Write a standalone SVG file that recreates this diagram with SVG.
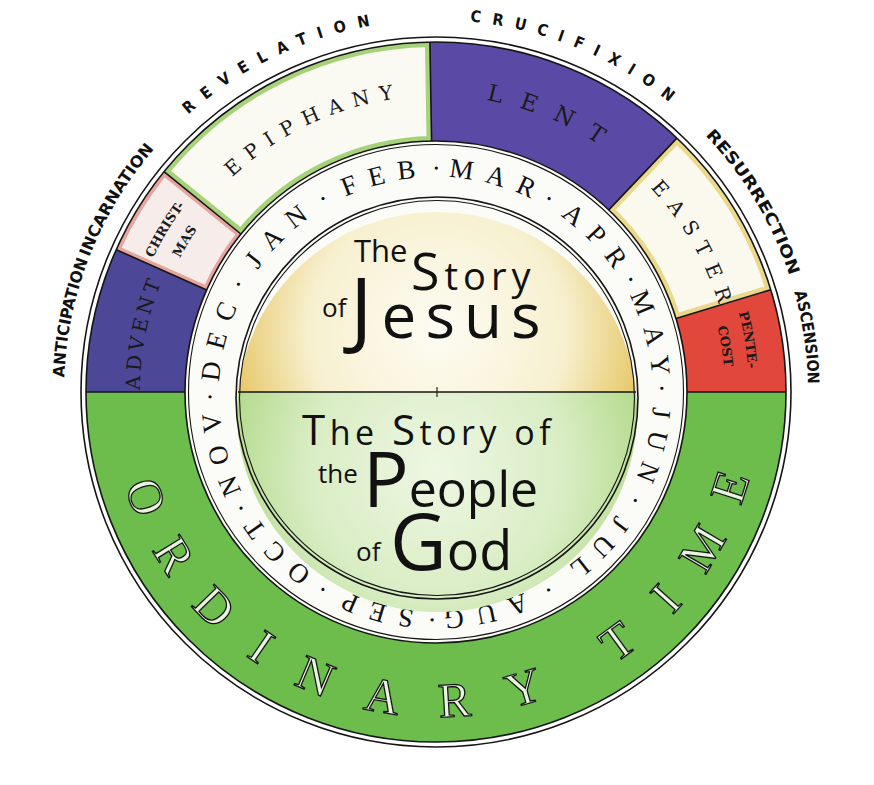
<svg xmlns="http://www.w3.org/2000/svg" xmlns:xlink="http://www.w3.org/1999/xlink" width="874" height="785" viewBox="0 0 874 785">
<style>
.ln{fill:none;stroke:#151515;stroke-width:1.6}
.lt{fill:none;stroke:#151515;stroke-width:1.1}
.outer{font-family:"DejaVu Sans Condensed","DejaVu Sans",sans-serif;font-stretch:condensed;font-weight:bold;font-size:16px;fill:#111}
.band{font-family:"DejaVu Serif",serif;fill:#1a1a1a;text-anchor:middle}
.small{font-family:"DejaVu Serif",serif;font-weight:bold;font-size:13px;fill:#1a1a1a;text-anchor:middle}
.month{font-family:"Liberation Serif",serif;font-size:27px;fill:#111;letter-spacing:12px;text-anchor:middle}
.dot{font-family:"Liberation Serif",serif;font-size:27px;fill:#111;text-anchor:middle}
.ord{font-family:"Liberation Serif",serif;font-size:49px;fill:#e9f4df;stroke:#141414;stroke-width:1.3;text-anchor:middle}
.story{font-family:"Open Sans",sans-serif;fill:#111}
</style>
<defs>
<radialGradient id="gUp" cx="437" cy="330" r="215" gradientUnits="userSpaceOnUse">
<stop offset="0" stop-color="#fdfcf4"/><stop offset="0.6" stop-color="#f7f0cf"/><stop offset="1" stop-color="#e5c45e"/>
</radialGradient>
<radialGradient id="gLo" cx="437" cy="470" r="215" gradientUnits="userSpaceOnUse">
<stop offset="0" stop-color="#eef7e3"/><stop offset="0.6" stop-color="#d9edc4"/><stop offset="1" stop-color="#b3da8c"/>
</radialGradient>
<path id="sChr" d="M116.3,249.7 A350,350 0 0 1 164.0,171.7 L240.9,234.0 A251,251 0 0 0 206.7,289.9 Z"/>
<path id="sEpi" d="M164.0,171.7 A350,350 0 0 1 429.9,42.1 L431.6,141.0 A251,251 0 0 0 240.9,234.0 Z"/>
<path id="sEas" d="M676.9,138.1 A350,350 0 0 1 770.7,289.7 L676.0,318.6 A251,251 0 0 0 608.8,209.9 Z"/>
<clipPath id="cChr"><use xlink:href="#sChr"/></clipPath>
<clipPath id="cEpi"><use xlink:href="#sEpi"/></clipPath>
<clipPath id="cEas"><use xlink:href="#sEas"/></clipPath>
<path id="pOuter" d="M64,392 A372,372 0 1 1 808,392 A372,372 0 1 1 64,392"/>
<path id="pBand" d="M140,392 A296,296 0 1 1 732,392 A296,296 0 1 1 140,392"/>
<path id="pHi" d="M123,392 A313,313 0 1 1 749,392 A313,313 0 1 1 123,392"/>
<path id="pLo" d="M147,392 A289,289 0 1 1 725,392 A289,289 0 1 1 147,392"/>
<path id="pMonth" d="M219,394 A217,217 0 1 1 653,394 A217,217 0 1 1 219,394 A217,217 0 1 1 653,394"/>
<path id="pOrd" d="M111,392 A325,325 0 0 0 761,392"/>
</defs>

<g id="season-ring">
<g id="advent"><path d="M86,392 A350,350 0 0 1 116.3,249.7 L206.7,289.9 A251,251 0 0 0 185,392 Z" fill="#4c4797"/>
<text class="band" font-size="20" letter-spacing="4"><textPath xlink:href="#pBand" startOffset="59">ADVENT</textPath></text></g>
<g id="christmas"><use xlink:href="#sChr" fill="#f6ecea"/><use xlink:href="#sChr" fill="none" stroke="#e6a49c" stroke-width="8" clip-path="url(#cChr)"/>
<text class="small"><textPath xlink:href="#pHi" startOffset="169">CHRIST-</textPath></text>
<text class="small"><textPath xlink:href="#pLo" startOffset="156">MAS</textPath></text></g>
<g id="epiphany"><use xlink:href="#sEpi" fill="#fafaf2"/><use xlink:href="#sEpi" fill="none" stroke="#a6d27a" stroke-width="10" clip-path="url(#cEpi)"/>
<text class="band" font-size="20" letter-spacing="10"><textPath xlink:href="#pBand" startOffset="336">EPIPHANY</textPath></text></g>
<g id="lent"><path d="M429.9,42.1 A350,350 0 0 1 676.9,138.1 L608.8,209.9 A251,251 0 0 0 431.6,141.0 Z" fill="#5a4aa5"/>
<text class="band" font-size="23" letter-spacing="18"><textPath xlink:href="#pBand" startOffset="585">LENT</textPath></text></g>
<g id="easter"><use xlink:href="#sEas" fill="#fbf9ee"/><use xlink:href="#sEas" fill="none" stroke="#ead98a" stroke-width="10" clip-path="url(#cEas)"/>
<text class="band" font-size="20" letter-spacing="10"><textPath xlink:href="#pBand" startOffset="777">EASTER</textPath></text></g>
<g id="pentecost"><path d="M770.7,289.7 A350,350 0 0 1 786,392 L687,392 A251,251 0 0 0 676.0,318.6 Z" fill="#e2473b"/>
<text class="small"><textPath xlink:href="#pHi" startOffset="931">PENTE-</textPath></text>
<text class="small"><textPath xlink:href="#pLo" startOffset="862">COST</textPath></text></g>
<g id="ordinary-time"><path d="M786,392 A350,350 0 0 1 86,392 L185,392 A251,251 0 0 0 687,392 Z" fill="#6dbd4d"/>
<text class="ord"><textPath xlink:href="#pOrd" startOffset="113">O</textPath></text>
<text class="ord"><textPath xlink:href="#pOrd" startOffset="181">R</textPath></text>
<text class="ord"><textPath xlink:href="#pOrd" startOffset="250">D</textPath></text>
<text class="ord"><textPath xlink:href="#pOrd" startOffset="315">I</textPath></text>
<text class="ord"><textPath xlink:href="#pOrd" startOffset="380">N</textPath></text>
<text class="ord"><textPath xlink:href="#pOrd" startOffset="454">A</textPath></text>
<text class="ord"><textPath xlink:href="#pOrd" startOffset="530">R</textPath></text>
<text class="ord"><textPath xlink:href="#pOrd" startOffset="604">Y</textPath></text>
<text class="ord"><textPath xlink:href="#pOrd" startOffset="715">T</textPath></text>
<text class="ord"><textPath xlink:href="#pOrd" startOffset="783">I</textPath></text>
<text class="ord"><textPath xlink:href="#pOrd" startOffset="848">M</textPath></text>
<text class="ord"><textPath xlink:href="#pOrd" startOffset="919">E</textPath></text></g>
</g>

<g id="month-ring">
<circle cx="436" cy="392" r="251" fill="#fbfbf7"/>
<text class="month"><textPath xlink:href="#pMonth" startOffset="57">DEC</textPath></text>
<text class="month"><textPath xlink:href="#pMonth" startOffset="174.5">JAN</textPath></text>
<text class="month"><textPath xlink:href="#pMonth" startOffset="290">FEB</textPath></text>
<text class="month"><textPath xlink:href="#pMonth" startOffset="402">MAR</textPath></text>
<text class="month"><textPath xlink:href="#pMonth" startOffset="517">APR</textPath></text>
<text class="month"><textPath xlink:href="#pMonth" startOffset="627">MAY</textPath></text>
<text class="month"><textPath xlink:href="#pMonth" startOffset="737">JUN</textPath></text>
<text class="month"><textPath xlink:href="#pMonth" startOffset="850.6">JUL</textPath></text>
<text class="month"><textPath xlink:href="#pMonth" startOffset="979">AUG</textPath></text>
<text class="month"><textPath xlink:href="#pMonth" startOffset="1085">SEP</textPath></text>
<text class="month"><textPath xlink:href="#pMonth" startOffset="1199">OCT</textPath></text>
<text class="month"><textPath xlink:href="#pMonth" startOffset="1309">NOV</textPath></text>
<text class="dot"><textPath xlink:href="#pMonth" startOffset="110">·</textPath></text>
<text class="dot"><textPath xlink:href="#pMonth" startOffset="227">·</textPath></text>
<text class="dot"><textPath xlink:href="#pMonth" startOffset="341">·</textPath></text>
<text class="dot"><textPath xlink:href="#pMonth" startOffset="454.5">·</textPath></text>
<text class="dot"><textPath xlink:href="#pMonth" startOffset="566">·</textPath></text>
<text class="dot"><textPath xlink:href="#pMonth" startOffset="676">·</textPath></text>
<text class="dot"><textPath xlink:href="#pMonth" startOffset="788">·</textPath></text>
<text class="dot"><textPath xlink:href="#pMonth" startOffset="909">·</textPath></text>
<text class="dot"><textPath xlink:href="#pMonth" startOffset="1026">·</textPath></text>
<text class="dot"><textPath xlink:href="#pMonth" startOffset="1136">·</textPath></text>
<text class="dot"><textPath xlink:href="#pMonth" startOffset="1248">·</textPath></text>
<text class="dot"><textPath xlink:href="#pMonth" startOffset="1360">·</textPath></text>
</g>

<g id="story-circle">
<path d="M238,392 A200,200 0 0 1 636,392 Z" fill="url(#gUp)"/>
<path d="M238,392 A200,200 0 1 0 636,392 Z" fill="url(#gLo)"/>
<line x1="238" y1="392" x2="636" y2="392" class="ln"/>
<line x1="437" y1="387" x2="437" y2="397" class="lt"/>
<g class="story">
<text x="354" y="262" font-size="31">The</text>
<text x="411" y="290" letter-spacing="5"><tspan font-size="52">S</tspan><tspan font-size="38">tory</tspan></text>
<text x="322" y="317" font-size="26">of</text>
<text x="350" y="338" letter-spacing="9"><tspan font-size="84">J</tspan><tspan font-size="62">esus</tspan></text>
<text x="302" y="445" letter-spacing="4.5"><tspan font-size="42">T</tspan><tspan font-size="34">he </tspan><tspan font-size="42">S</tspan><tspan font-size="34">tory of</tspan></text>
<text x="318" y="483" font-size="26">the</text>
<text x="363" y="507"><tspan font-size="76">P</tspan><tspan font-size="50">eople</tspan></text>
<text x="356" y="561" font-size="26">of</text>
<text x="390" y="570"><tspan font-size="78">G</tspan><tspan font-size="54">od</tspan></text>
</g>
</g>

<g id="connectors">
<line x1="86" y1="392" x2="185" y2="392" class="ln"/>
<line x1="687" y1="392" x2="786" y2="392" class="ln"/>
<line x1="116.3" y1="249.7" x2="206.7" y2="289.9" class="ln"/>
<line x1="164.0" y1="171.7" x2="240.9" y2="234.0" class="ln"/>
<line x1="429.9" y1="42.1" x2="431.6" y2="141.0" class="ln"/>
<line x1="676.9" y1="138.1" x2="608.8" y2="209.9" class="ln"/>
<line x1="770.7" y1="289.7" x2="676.0" y2="318.6" class="ln"/>
<circle cx="436" cy="392" r="355" class="ln"/>
<circle cx="436" cy="392" r="350" class="ln"/>
<circle cx="436" cy="392" r="251" class="ln"/>
<circle cx="436" cy="392" r="247.5" class="lt"/>
<circle cx="437" cy="398" r="201" class="ln"/>
<circle cx="437" cy="398" r="197.5" class="lt"/>
</g>

<g id="outer-labels" class="outer">
<text text-anchor="middle"><textPath xlink:href="#pOuter" startOffset="74.7" textLength="120" lengthAdjust="spacingAndGlyphs">ANTICIPATION</textPath></text>
<text text-anchor="middle"><textPath xlink:href="#pOuter" startOffset="201.3" textLength="127" lengthAdjust="spacingAndGlyphs">INCARNATION</textPath></text>
<text text-anchor="middle"><textPath xlink:href="#pOuter" startOffset="415.5" textLength="205" lengthAdjust="spacing">REVELATION</textPath></text>
<text text-anchor="middle"><textPath xlink:href="#pOuter" startOffset="727.2" textLength="218" lengthAdjust="spacing">CRUCIFIXION</textPath></text>
<text text-anchor="middle"><textPath xlink:href="#pOuter" startOffset="967.4" textLength="165" lengthAdjust="spacingAndGlyphs">RESURRECTION</textPath></text>
<text text-anchor="middle"><textPath xlink:href="#pOuter" startOffset="1113.5" textLength="93" lengthAdjust="spacingAndGlyphs">ASCENSION</textPath></text>
</g>
</svg>
